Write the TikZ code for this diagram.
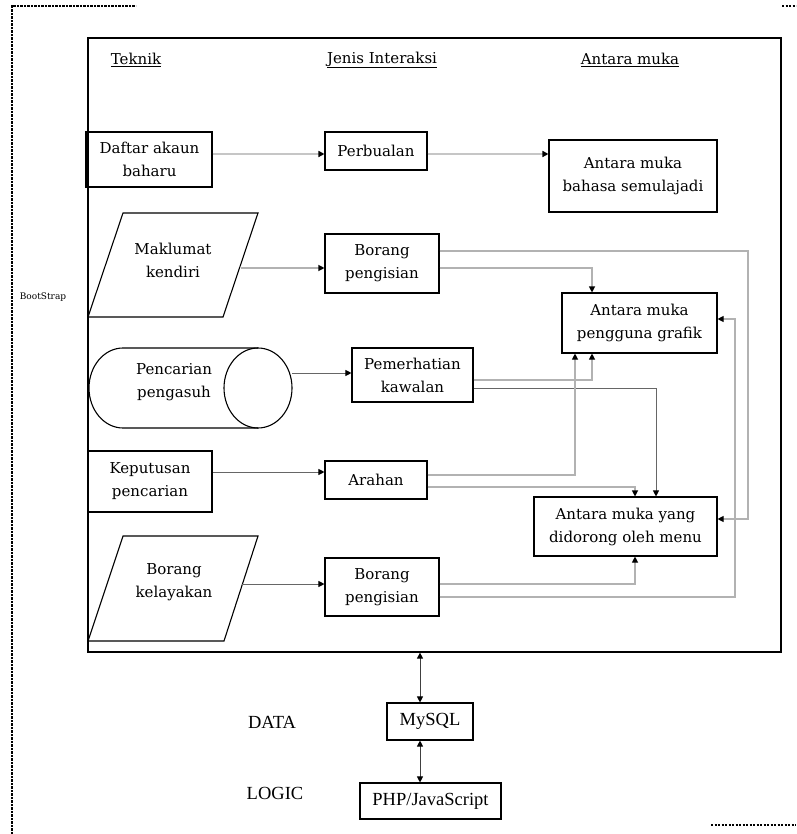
\documentclass[tikz,border=0pt]{standalone}
\usepackage{fontspec}
\setmainfont{DejaVu Serif}
\newfontfamily\timesf{Liberation Serif}
\usetikzlibrary{arrows.meta,calc}
\begin{document}
\begin{tikzpicture}[x=1pt,y=-1pt,
  mainfont/.style={font=\fontsize{15}{23}\selectfont},
  box/.style={draw, line width=1.1pt, inner sep=0pt, align=center, mainfont},
  conn/.style={draw=gray!60, line width=1.1pt, -{Triangle[black,length=6pt,width=6pt]}},
  thickconn/.style={draw=gray!45, line width=2.2pt, -{Triangle[black,length=6pt,width=6pt]}},
  darkconn/.style={draw=gray!80!black, line width=0.9pt, -{Triangle[black,length=6pt,width=6pt]}},
  biarrow/.style={draw=black!75, line width=0.9pt, {Triangle[black,length=6pt,width=6pt]}-{Triangle[black,length=6pt,width=6pt]}},
  outline/.style={draw, line width=1.1pt},
  dashline/.style={draw, line width=1.3pt, dash pattern=on 2.2pt off 1.3pt},
  head/.style={mainfont, inner sep=0pt}]
\useasboundingbox (0,0) rectangle (796,834);

% outer dashed marks
\draw[dashline] (12,834) -- (12,6) -- (136,6);
\draw[dashline] (782,6) -- (796,6);
\draw[dashline] (711,825) -- (796,825);
\node[font=\fontsize{9}{11}\selectfont, inner sep=0pt] (boot) at (43,297) {BootStrap};

% main frame
\node[draw, line width=1.2pt, minimum width=693, minimum height=614, inner sep=0pt] (frame) at (434.5,345) {};

% headers
\node[head] (h1) at (136,60) {\underline{Teknik}};
\node[head] (h2) at (382,60) {\underline{Jenis Interaksi}};
\node[head] (h3) at (630,60) {\underline{Antara muka}};

% lanes
\coordinate (r1) at (0,154);
\coordinate (r2) at (0,268);
\coordinate (b1t) at (0,251);
\coordinate (r3) at (0,373);
\coordinate (p1) at (0,380);
\coordinate (p2) at (0,388);
\coordinate (r4) at (0,472);
\coordinate (a1) at (0,475);
\coordinate (a2) at (0,487);
\coordinate (r5) at (0,584);
\coordinate (b2) at (0,597);
\coordinate (g1) at (0,319);
\coordinate (d1) at (0,519);
\coordinate (va) at (575,0);
\coordinate (vb) at (592,0);
\coordinate (vc) at (635,0);
\coordinate (vd) at (656,0);
\coordinate (ve) at (735,0);
\coordinate (vf) at (748,0);
\coordinate (vm) at (420,0);

% Teknik column
\node[box, minimum width=125, minimum height=55] (daftar) at (149.5,159.5) {Daftar akaun\\baharu};
\draw[line width=2.2pt] (daftar.north west) -- (daftar.south west);

\draw[outline] (123,213) -- (258,213) -- (223,317) -- (88,317) -- cycle;
\node[mainfont, align=center, inner sep=0pt] (mak) at (173,260) {Maklumat\\kendiri};
\coordinate (makR) at (241,268);

\draw[outline] (258,348) -- (123,348) arc[start angle=270, end angle=90, x radius=34, y radius=40] -- (258,428);
\draw[outline] (258,388) ellipse [x radius=34, y radius=40];
\node[mainfont, align=center, inner sep=0pt] (cyl) at (174,382) {Pencarian\\pengasuh};
\coordinate (cylR) at (292,373);

\node[box, line width=2pt, minimum width=124, minimum height=61] (kep) at (150,481.5) {Keputusan\\pencarian};

\draw[outline] (123,536) -- (258,536) -- (224,641) -- (88,641) -- cycle;
\node[mainfont, align=center, inner sep=0pt] (kel) at (174,582) {Borang\\kelayakan};
\coordinate (kelR) at (242,584);

% Jenis Interaksi column
\node[box, minimum width=102, minimum height=38] (perb) at (376,151) {Perbualan};
\node[box, minimum width=114, minimum height=59] (bor1) at (382,263.5) {Borang\\pengisian};
\node[box, minimum width=121, minimum height=54] (pem) at (412.5,375) {Pemerhatian\\kawalan};
\node[box, minimum width=102, minimum height=38] (arah) at (376,480) {Arahan};
\node[box, minimum width=114, minimum height=58] (bor2) at (382,587) {Borang\\pengisian};

% Antara muka column
\node[box, minimum width=168, minimum height=72] (bahasa) at (633,176) {Antara muka\\bahasa semulajadi};
\node[box, minimum width=155, minimum height=60] (grafik) at (639.5,323) {Antara muka\\pengguna grafik};
\node[box, minimum width=183, minimum height=59] (didorong) at (625.5,526.5) {Antara muka yang\\didorong oleh menu};

% connectors
\draw[thickconn] (daftar.east |- r1) -- (perb.west |- r1);
\draw[thickconn] (perb.east |- r1) -- (bahasa.west |- r1);
\draw[conn] (makR) -- (bor1.west |- r2);
\draw[conn] (bor1.east |- r2) -| (vb |- grafik.north);
\draw[conn] (bor1.east |- b1t) -| (vf |- d1) -- (didorong.east |- d1);
\draw[darkconn] (cylR) -- (pem.west |- r3);
\draw[conn] (pem.east |- p1) -| (vb |- grafik.south);
\draw[darkconn] (pem.east |- p2) -| (vd |- didorong.north);
\draw[darkconn] (kep.east |- r4) -- (arah.west |- r4);
\draw[conn] (arah.east |- a1) -| (va |- grafik.south);
\draw[conn] (arah.east |- a2) -| (vc |- didorong.north);
\draw[darkconn] (kelR) -- (bor2.west |- r5);
\draw[conn] (bor2.east |- r5) -| (vc |- didorong.south);
\draw[conn] (bor2.east |- b2) -| (ve |- g1) -- (grafik.east |- g1);

% bottom tiers
\node[draw, line width=1.1pt, minimum width=86, minimum height=37, inner sep=0pt, font=\timesf\fontsize{18.5}{22}\selectfont] (mysql) at (430,721.5) {MySQL};
\node[draw, line width=1.1pt, minimum width=141, minimum height=36, inner sep=0pt, font=\timesf\fontsize{18.5}{22}\selectfont] (php) at (430.5,801) {PHP/JavaScript};
\node[inner sep=0pt, font=\timesf\fontsize{18.5}{22}\selectfont] (data) at (272,722) {DATA};
\node[inner sep=0pt, font=\timesf\fontsize{18.5}{22}\selectfont] (logic) at (275,793) {LOGIC};
\draw[biarrow] (vm |- frame.south) -- (vm |- mysql.north);
\draw[biarrow] (vm |- mysql.south) -- (vm |- php.north);
\end{tikzpicture}
\end{document}
